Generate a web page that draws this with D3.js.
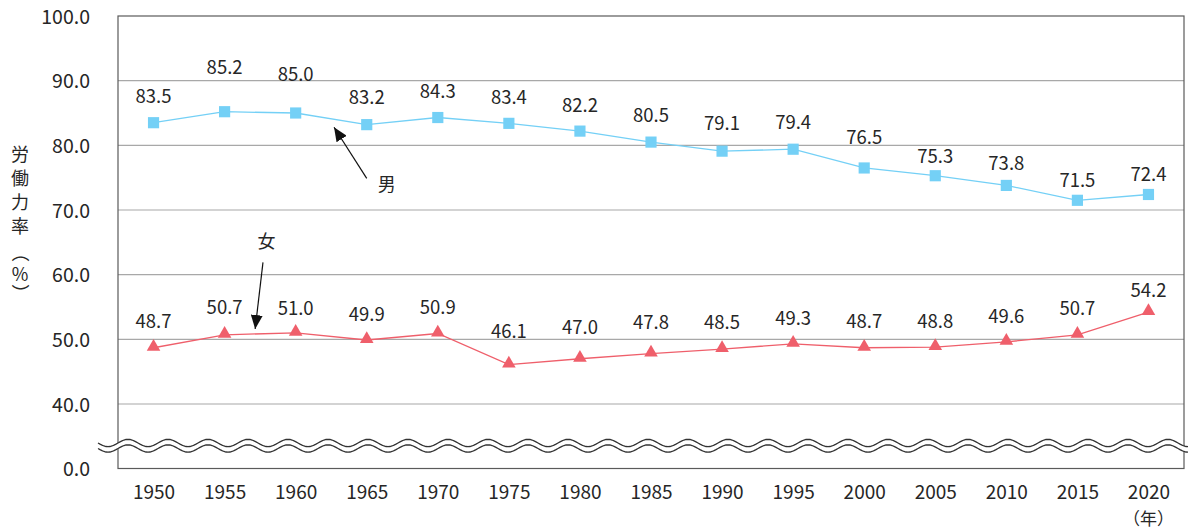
<!DOCTYPE html>
<html>
<head>
<meta charset="utf-8">
<script src="https://cdn.jsdelivr.net/npm/d3@7"></script>
<style>
  html, body { margin: 0; padding: 0; background: #fff; }
  svg text { font-family: "Noto Sans CJK JP", "Noto Sans", sans-serif; fill: #262626; }
</style>
</head>
<body>
<div id="container"></div>
<script>
// datos del gráfico
const years = [1950, 1955, 1960, 1965, 1970, 1975, 1980, 1985, 1990, 1995, 2000, 2005, 2010, 2015, 2020]
const male = [83.5, 85.2, 85.0, 83.2, 84.3, 83.4, 82.2, 80.5, 79.1, 79.4, 76.5, 75.3, 73.8, 71.5, 72.4]
const female = [48.7, 50.7, 51.0, 49.9, 50.9, 46.1, 47.0, 47.8, 48.5, 49.3, 48.7, 48.8, 49.6, 50.7, 54.2]
const yTicks = [0, 40, 50, 60, 70, 80, 90, 100]
const yTitle = ["労", "働", "力", "率", "（", "%", "）"]
const xUnit = "（年）"

// desplazamiento vertical de cada etiqueta (px), colocadas a mano como en el original
const maleLabelDy = [-26, -44, -39, -27, -26, -26, -26, -27, -28, -27, -31, -19, -22, -20, -20]
const femaleLabelDy = [-26, -27, -25, -26, -26, -33, -31, -31, -27, -26, -26, -26, -26, -26, -22]

// flechas: [desde, punta, etiqueta] en (año, %)
const arrows = [
  { text: "男", from: [1965.0, 74.9], to: [1962.7, 82.8], label: [1966.4, 73.9] },
  { text: "女", from: [1957.7, 61.9], to: [1957.15, 51.6], label: [1957.95, 65.1] }
]

const width = 1188
const height = 532
const m = { left: 118, right: 1184, top: 16, bottom: 468.5 }

const maleColor = "#74d0f6"
const femaleColor = "#ef5f6b"

const x = d3.scaleLinear([1947.5, 2022.5], [m.left, m.right])
const y = d3.scaleLinear([0, 40, 100], [m.bottom, 404, m.top])

const svg = d3.create("svg")
  .attr("width", width)
  .attr("height", height)
  .attr("viewBox", [0, 0, width, height])

// lineas de la grilla
svg.append("g")
  .selectAll("line")
  .data(yTicks.filter(d => d > 0 && d < 100))
  .join("line")
    .attr("x1", m.left).attr("x2", m.right)
    .attr("y1", d => y(d)).attr("y2", d => y(d))
    .attr("stroke", "#a8a8a8")
    .attr("stroke-width", 1.2)

// marco
svg.append("rect")
  .attr("x", m.left).attr("y", m.top)
  .attr("width", m.right - m.left).attr("height", m.bottom - m.top)
  .attr("fill", "none")
  .attr("stroke", "#5a5a5a")
  .attr("stroke-width", 1.2)

// eje y
const yAxis = svg.append("g")
  .attr("transform", `translate(${m.left},0)`)
  .call(d3.axisLeft(y).tickValues(yTicks).tickSize(0).tickPadding(28).tickFormat(d3.format(".1f")))
yAxis.select(".domain").remove()
yAxis.selectAll("text")
  .style("font-size", "19.5px")
  .attr("dy", "0.36em")

// eje x
const xAxis = svg.append("g")
  .attr("transform", `translate(0,${m.bottom})`)
  .call(d3.axisBottom(x).tickValues(years).tickSize(0).tickFormat(d3.format("d")))
xAxis.select(".domain").remove()
xAxis.selectAll("text")
  .style("font-size", "19px")
  .attr("y", 24)
  .attr("dy", "0.36em")

svg.append("text")
  .attr("x", x(years[years.length - 1]))
  .attr("y", 519)
  .attr("dy", "0.36em")
  .attr("text-anchor", "middle")
  .style("font-size", "17px")
  .text(xUnit)

// titulo del eje y, vertical
const titleY = [155, 179, 203, 227, 253, 275, 293]
svg.append("g")
  .selectAll("text")
  .data(yTitle)
  .join("text")
    .attr("text-anchor", "middle")
    .attr("dy", "0.36em")
    .attr("transform", (d, i) => `translate(20,${titleY[i]})` + ((d === "（" || d === "）") ? " rotate(90)" : ""))
    .style("font-size", "18px")
    .text(d => d)

// corte del eje (ondas)
const wave = (c) => d3.range(98, 1190, 2).map(px => [px, c - 3.7 * Math.cos(2 * Math.PI * (px - 128) / 40)])
const upper = wave(443)
const lower = wave(448.5)
svg.append("path")
  .attr("d", d3.area().x(d => d[0]).y0(d => d[1]).y1((d, i) => lower[i][1])(upper))
  .attr("fill", "#fff")
svg.append("g")
  .selectAll("path")
  .data([upper, lower])
  .join("path")
    .attr("d", d3.line())
    .attr("fill", "none")
    .attr("stroke", "#333")
    .attr("stroke-width", 1.3)

// series
const series = [
  { values: male, color: maleColor, symbol: d3.symbolSquare, size: 125, dy: maleLabelDy, off: 0 },
  { values: female, color: femaleColor, symbol: d3.symbolTriangle, size: 80, dy: femaleLabelDy, off: 1 }
]

const line = d3.line().x((d, i) => x(years[i])).y(d => y(d))

series.forEach(s => {
  const g = svg.append("g")
  g.append("path")
    .datum(s.values)
    .attr("d", line)
    .attr("fill", "none")
    .attr("stroke", s.color)
    .attr("stroke-width", 1.3)

  g.selectAll(".mk")
    .data(s.values)
    .join("path")
      .attr("class", "mk")
      .attr("transform", (d, i) => `translate(${x(years[i])},${y(d) - s.off})`)
      .attr("d", d3.symbol(s.symbol, s.size))
      .attr("fill", s.color)

  g.selectAll(".lbl")
    .data(s.values)
    .join("text")
      .attr("class", "lbl")
      .attr("x", (d, i) => x(years[i]))
      .attr("y", (d, i) => y(d) + s.dy[i])
      .attr("dy", "0.36em")
      .attr("text-anchor", "middle")
      .style("font-size", "18.5px")
      .text(d => d3.format(".1f")(d))
})

// flechas
svg.append("defs").append("marker")
  .attr("id", "head")
  .attr("viewBox", "0 -6 14 12")
  .attr("refX", 14).attr("refY", 0)
  .attr("markerWidth", 14).attr("markerHeight", 12)
  .attr("markerUnits", "userSpaceOnUse")
  .attr("orient", "auto")
  .append("path")
    .attr("d", "M0,-6L14,0L0,6Z")
    .attr("fill", "#111")

const ann = svg.append("g")
ann.selectAll("line")
  .data(arrows)
  .join("line")
    .attr("x1", d => x(d.from[0])).attr("y1", d => y(d.from[1]))
    .attr("x2", d => x(d.to[0])).attr("y2", d => y(d.to[1]))
    .attr("stroke", "#111")
    .attr("stroke-width", 1.2)
    .attr("marker-end", "url(#head)")
ann.selectAll("text")
  .data(arrows)
  .join("text")
    .attr("x", d => x(d.label[0]))
    .attr("y", d => y(d.label[1]))
    .attr("dy", "0.36em")
    .attr("text-anchor", "middle")
    .style("font-size", "18px")
    .text(d => d.text)

container.append(svg.node())
</script>
</body>
</html>
